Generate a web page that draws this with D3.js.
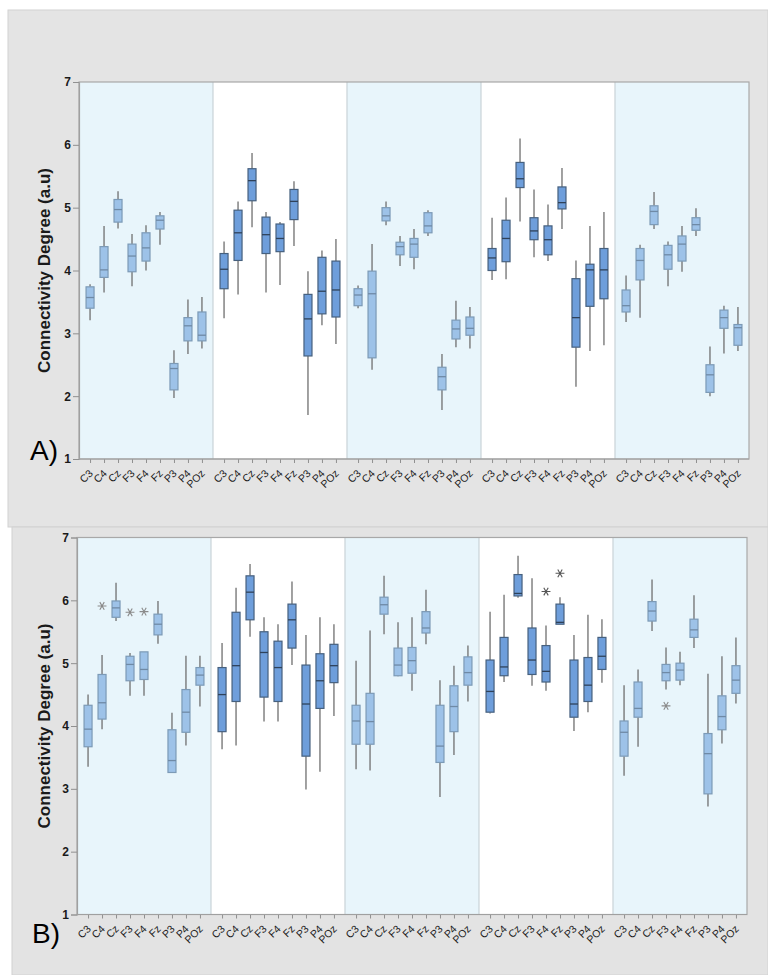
<!DOCTYPE html>
<html><head><meta charset="utf-8">
<script src="https://cdn.jsdelivr.net/npm/d3@7"></script>
<style>body{margin:0;background:#fff}svg{display:block}</style>
</head><body>
<svg id="chart" width="768" height="975"></svg>
<script>
const channels = ["C3","C4","Cz","F3","F4","Fz","P3","P4","POz"];
const groups = [0,1,2,3,4];
const yTicks = [1,2,3,4,5,6,7];
const panelLabels = ["A)","B)"];
const yTitle = "Connectivity Degree (a.u)";

// each row: [low whisker, Q1, median, Q3, high whisker], one row per channel
const A_g1 = [[3.21,3.40,3.57,3.74,3.78],[3.65,3.89,4.01,4.38,4.71],[4.67,4.77,4.97,5.13,5.26],[3.75,3.98,4.23,4.42,4.58],[4.00,4.15,4.36,4.60,4.72],[4.41,4.66,4.80,4.87,4.93],[1.97,2.10,2.44,2.52,2.73],[2.67,2.88,3.12,3.25,3.54],[2.76,2.88,2.97,3.34,3.58]];
const A_g2 = [[3.24,3.71,4.02,4.27,4.46],[3.62,4.16,4.60,4.96,5.10],[4.69,5.11,5.43,5.62,5.87],[3.65,4.27,4.57,4.85,4.93],[3.77,4.30,4.51,4.74,4.77],[4.39,4.81,5.10,5.29,5.42],[1.70,2.64,3.23,3.62,3.99],[3.13,3.31,3.67,4.21,4.32],[2.83,3.26,3.69,4.15,4.50]];
const A_g3 = [[3.40,3.44,3.61,3.71,3.76],[2.42,2.61,3.63,3.99,4.42],[4.72,4.79,4.87,5.00,5.10],[4.07,4.25,4.38,4.45,4.55],[4.02,4.21,4.42,4.51,4.66],[4.55,4.60,4.71,4.92,4.96],[1.78,2.10,2.31,2.46,2.67],[2.78,2.91,3.07,3.21,3.52],[2.76,2.97,3.08,3.26,3.42]];
const A_g4 = [[3.85,4.00,4.20,4.35,4.84],[3.86,4.14,4.51,4.80,5.16],[4.78,5.32,5.46,5.72,6.10],[4.21,4.49,4.63,4.84,5.29],[4.15,4.25,4.49,4.71,5.05],[4.66,4.98,5.08,5.33,5.63],[2.15,2.78,3.25,3.87,4.16],[2.72,3.43,4.01,4.10,4.71],[2.81,3.55,4.01,4.35,4.93]];
const A_g5 = [[3.18,3.34,3.44,3.69,3.92],[3.25,3.85,4.16,4.35,4.41],[4.66,4.73,4.94,5.03,5.25],[3.75,4.02,4.25,4.40,4.46],[3.98,4.15,4.42,4.55,4.71],[4.55,4.64,4.73,4.84,4.99],[2.00,2.06,2.34,2.50,2.79],[2.68,3.08,3.25,3.37,3.44],[2.72,2.81,3.09,3.14,3.42]];

const B_g1 = [[3.35,3.67,3.95,4.33,4.50],[3.95,4.11,4.37,4.82,5.13],[5.67,5.73,5.88,5.99,6.28],[4.48,4.72,4.98,5.11,5.16],[4.48,4.74,4.90,5.18,5.18],[5.31,5.45,5.62,5.78,5.99],[3.26,3.26,3.45,3.94,4.21],[3.69,3.90,4.22,4.58,5.12],[4.31,4.65,4.81,4.93,5.12]];
const B_g2 = [[3.63,3.91,4.50,4.93,5.32],[3.69,4.39,4.96,5.81,6.20],[5.42,5.69,6.13,6.39,6.58],[4.07,4.46,5.17,5.50,5.73],[4.07,4.39,4.93,5.35,5.62],[4.97,5.24,5.69,5.94,6.30],[2.99,3.52,4.35,4.97,5.45],[3.27,4.28,4.72,5.15,5.73],[4.16,4.69,4.96,5.30,5.62]];
const B_g3 = [[3.31,3.71,4.08,4.33,5.04],[3.29,3.71,4.07,4.52,5.52],[5.46,5.78,5.93,6.05,6.39],[4.79,4.80,4.97,5.24,5.65],[4.56,4.84,5.04,5.25,5.73],[5.30,5.48,5.56,5.82,6.17],[2.87,3.42,3.68,4.33,4.73],[3.54,3.91,4.31,4.64,4.96],[4.39,4.65,4.85,5.10,5.28]];
const B_g4 = [[4.20,4.22,4.55,5.05,5.82],[4.70,4.80,4.94,5.41,6.09],[6.04,6.07,6.11,6.41,6.71],[4.64,4.82,5.05,5.56,6.35],[4.56,4.70,4.87,5.28,5.60],[5.62,5.62,5.65,5.94,6.05],[3.92,4.14,4.35,5.05,5.45],[4.22,4.39,4.65,5.09,5.77],[4.69,4.90,5.11,5.41,5.70]];
const B_g5 = [[3.21,3.52,3.90,4.08,4.65],[3.67,4.14,4.28,4.70,4.90],[5.51,5.67,5.83,5.98,6.33],[4.58,4.72,4.85,4.98,5.25],[4.65,4.73,4.89,5.00,5.18],[5.24,5.41,5.53,5.70,6.08],[2.72,2.92,3.56,3.88,4.83],[3.72,3.94,4.15,4.48,5.11],[4.36,4.52,4.73,4.96,5.41]];

// outliers: [group index, channel, value]
const A_outliers = [];
const B_outliers = [[0,"C4",5.91],[0,"F3",5.81],[0,"F4",5.82],[3,"F4",6.14],[3,"Fz",6.43],[4,"F3",4.32]];

const panels = [
  {data:[A_g1,A_g2,A_g3,A_g4,A_g5], out:A_outliers, label:panelLabels[0],
   left:79, right:749, top:82, bottom:459, bg:[8,10,760,517], lx:30, ly:460},
  {data:[B_g1,B_g2,B_g3,B_g4,B_g5], out:B_outliers, label:panelLabels[1],
   left:77, right:747, top:537.5, bottom:914.5, bg:[12,527,756,448], lx:32, ly:943}
];

const svg = d3.select("#chart");
const light = {fill:"#9dc2e8", stroke:"#7c9ab6", med:"#6f8aa6", bg:"#e8f5fb"};
const dark  = {fill:"#6e9edb", stroke:"#46607e", med:"#2f425a", bg:"#ffffff"};
const font = "'Liberation Sans', Arial, sans-serif";

panels.forEach((p,pi) => {
  svg.append("rect").attr("x",p.bg[0]).attr("y",p.bg[1]).attr("width",p.bg[2]).attr("height",p.bg[3])
    .attr("fill",pi===0?"#e4e4e4":"#e3e3e3").attr("stroke","#d2d2d2");
  const g = svg.append("g");
  const y = d3.scaleLinear().domain([1,7]).range([p.bottom,p.top]);
  const xg = d3.scaleBand().domain(groups).range([p.left,p.right]);
  const xi = d3.scalePoint().domain(channels).range([0,xg.bandwidth()]).padding(0.79);

  g.selectAll("rect.band").data(groups).join("rect")
    .attr("x",d=>xg(d)).attr("y",p.top).attr("width",xg.bandwidth()).attr("height",p.bottom-p.top)
    .attr("fill",d=>d%2===0?light.bg:dark.bg);
  g.selectAll("line.sep").data(groups.slice(1)).join("line")
    .attr("x1",d=>xg(d)).attr("x2",d=>xg(d)).attr("y1",p.top).attr("y2",p.bottom)
    .attr("stroke","#c9d3d8").attr("stroke-width",1.2);
  g.append("rect").attr("x",p.left).attr("y",p.top).attr("width",p.right-p.left).attr("height",p.bottom-p.top)
    .attr("fill","none").attr("stroke","#a8a8a8").attr("stroke-width",1.2);

  const ya = g.append("g").attr("transform",`translate(${p.left},0)`)
    .call(d3.axisLeft(y).tickValues(yTicks).tickFormat(d3.format("d")).tickSize(6).tickPadding(2));
  ya.select(".domain").attr("stroke","#a0a0a0").attr("stroke-width",1.2);
  ya.selectAll(".tick line").attr("stroke","#909090");
  ya.selectAll("text").attr("font-family",font).attr("font-weight","bold").attr("font-size",12).attr("fill","#1a1a1a");

  groups.forEach(gi => {
    const xa = g.append("g").attr("transform",`translate(${xg(gi)},${p.bottom})`)
      .call(d3.axisBottom(xi).tickSize(4).tickSizeOuter(0));
    xa.select(".domain").remove();
    xa.selectAll(".tick line").attr("stroke","#909090");
    xa.selectAll("text").attr("font-family",font).attr("font-size",10.5).attr("fill","#1a1a1a")
      .attr("text-anchor","end").attr("dy",null).attr("y",null)
      .attr("transform","translate(3,15) rotate(-45)");
  });
  g.append("line").attr("x1",p.left).attr("x2",p.right).attr("y1",p.bottom).attr("y2",p.bottom)
    .attr("stroke","#a0a0a0").attr("stroke-width",1.2);

  const bw = 8;
  p.data.forEach((rows,gi) => {
    const st = gi%2===0 ? light : dark;
    const gg = g.append("g");
    const items = rows.map((r,i)=>({ch:channels[i], r}));
    const cx = d => xg(gi)+xi(d.ch);
    gg.selectAll("line.wl").data(items).join("line")
      .attr("x1",cx).attr("x2",cx).attr("y1",d=>y(d.r[0])).attr("y2",d=>y(d.r[1]))
      .attr("stroke","#6f6f6f").attr("stroke-width",1.3);
    gg.selectAll("line.wh").data(items).join("line")
      .attr("x1",cx).attr("x2",cx).attr("y1",d=>y(d.r[3])).attr("y2",d=>y(d.r[4]))
      .attr("stroke","#6f6f6f").attr("stroke-width",1.3);
    gg.selectAll("rect.box").data(items).join("rect")
      .attr("x",d=>cx(d)-bw/2).attr("width",bw)
      .attr("y",d=>y(d.r[3])).attr("height",d=>Math.max(1,y(d.r[1])-y(d.r[3])))
      .attr("fill",st.fill).attr("stroke",st.stroke).attr("stroke-width",1.2);
    gg.selectAll("line.med").data(items).join("line")
      .attr("x1",d=>cx(d)-bw/2).attr("x2",d=>cx(d)+bw/2).attr("y1",d=>y(d.r[2])).attr("y2",d=>y(d.r[2]))
      .attr("stroke",st.med).attr("stroke-width",1.3);
  });

  g.selectAll("path.out").data(p.out).join("path")
    .attr("transform",d=>`translate(${xg(d[0])+xi(d[1])},${y(d[2])}) rotate(90)`)
    .attr("d",d3.symbol(d3.symbolAsterisk,55))
    .attr("fill","none").attr("stroke",d=>d[0]%2===0?"#8a8a8a":"#555").attr("stroke-width",1.1);

  g.append("text").attr("transform",`translate(50,${(p.top+p.bottom)/2}) rotate(-90)`)
    .attr("text-anchor","middle").attr("font-family",font).attr("font-weight","bold")
    .attr("font-size",17).attr("fill","#1a1a1a").text(yTitle);
  g.append("text").attr("x",p.lx).attr("y",p.ly).attr("font-family",font).attr("font-size",28)
    .attr("fill","#000").text(p.label);
});
</script>
</body></html>
